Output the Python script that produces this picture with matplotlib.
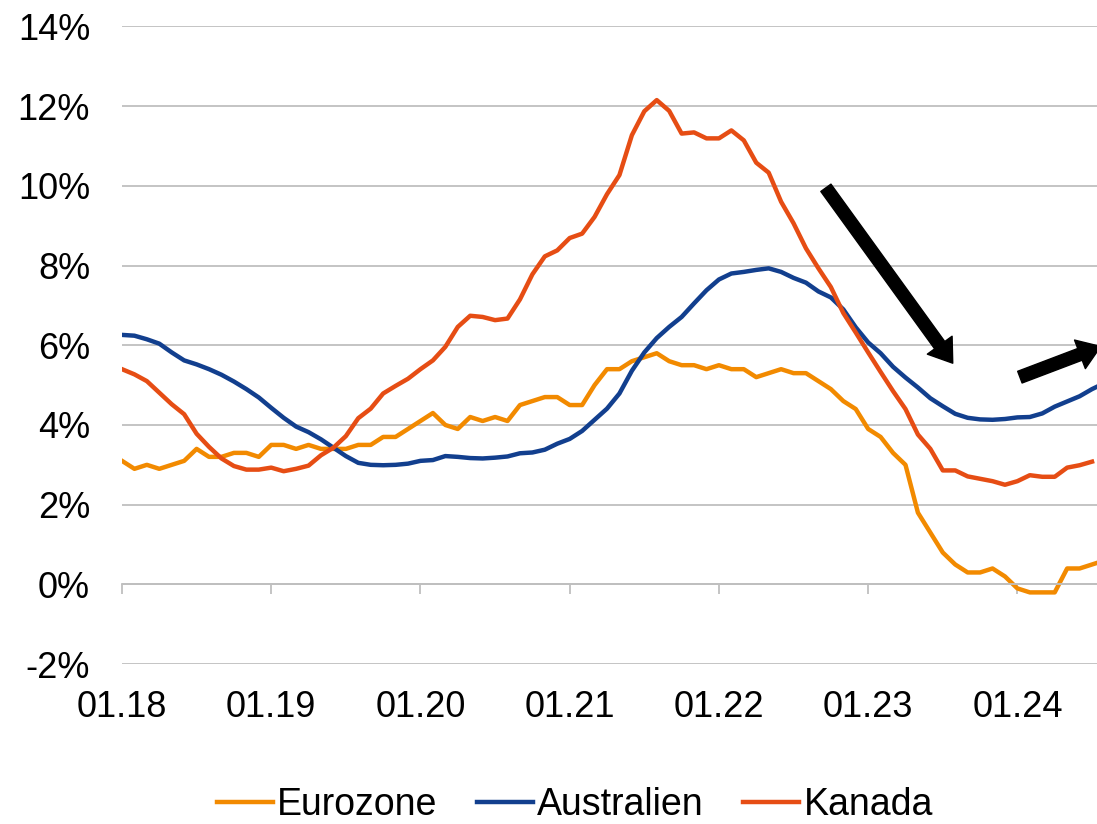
import matplotlib.pyplot as plt
import numpy as np

# monthly values from 01.18 onwards, in percent
eurozone = [3.1, 2.9, 3.0, 2.9, 3.0, 3.1, 3.4, 3.2, 3.2, 3.3,
            3.3, 3.2, 3.5, 3.5, 3.4, 3.5, 3.4, 3.4, 3.4, 3.5,
            3.5, 3.7, 3.7, 3.9, 4.1, 4.3, 4.0, 3.9, 4.2, 4.1,
            4.2, 4.1, 4.5, 4.6, 4.7, 4.7, 4.5, 4.5, 5.0, 5.4,
            5.4, 5.6, 5.7, 5.8, 5.6, 5.5, 5.5, 5.4, 5.5, 5.4,
            5.4, 5.2, 5.3, 5.4, 5.3, 5.3, 5.1, 4.9, 4.6, 4.4,
            3.9, 3.7, 3.3, 3.0, 1.8, 1.3, 0.8, 0.5, 0.3, 0.3,
            0.4, 0.2, -0.1, -0.2, -0.2, -0.2, 0.4, 0.4, 0.5, 0.6]
australien = [6.26, 6.24, 6.15, 6.04, 5.82, 5.62, 5.52, 5.4, 5.26, 5.09,
              4.9, 4.69, 4.43, 4.18, 3.96, 3.82, 3.64, 3.43, 3.22, 3.05,
              3.0, 2.99, 3.0, 3.03, 3.1, 3.12, 3.22, 3.2, 3.17, 3.16,
              3.18, 3.21, 3.29, 3.31, 3.38, 3.53, 3.65, 3.85, 4.13, 4.41,
              4.79, 5.36, 5.82, 6.18, 6.46, 6.71, 7.05, 7.38, 7.65, 7.8,
              7.84, 7.89, 7.93, 7.84, 7.69, 7.57, 7.35, 7.2, 6.9, 6.45,
              6.07, 5.8, 5.46, 5.19, 4.94, 4.67, 4.47, 4.28, 4.18, 4.14,
              4.13, 4.15, 4.19, 4.2, 4.29, 4.46, 4.59, 4.72, 4.9, 5.05]
kanada = [5.4, 5.27, 5.1, 4.81, 4.52, 4.27, 3.78, 3.45, 3.16, 2.97,
          2.88, 2.88, 2.93, 2.84, 2.9, 2.98, 3.24, 3.43, 3.72, 4.17,
          4.41, 4.79, 4.98, 5.16, 5.4, 5.62, 5.96, 6.46, 6.74, 6.71,
          6.63, 6.67, 7.15, 7.78, 8.23, 8.38, 8.69, 8.8, 9.22, 9.79,
          10.27, 11.27, 11.87, 12.15, 11.88, 11.31, 11.34, 11.19, 11.19, 11.39,
          11.14, 10.58, 10.33, 9.6, 9.06, 8.43, 7.93, 7.46, 6.81, 6.32,
          5.82, 5.33, 4.85, 4.4, 3.76, 3.4, 2.86, 2.86, 2.71, 2.65,
          2.59, 2.5, 2.59, 2.74, 2.7, 2.7, 2.93, 2.99, 3.08]

x_labels = ['01.18', '01.19', '01.20', '01.21', '01.22', '01.23', '01.24']
y_ticks = [-2, 0, 2, 4, 6, 8, 10, 12, 14]

plt.rcParams['font.family'] = ['Liberation Sans', 'DejaVu Sans']

fig = plt.figure(figsize=(10.97, 8.24), dpi=100)
ax = fig.add_axes([0.1112, 0.194, 0.8888, 0.774])

ax.plot(np.arange(len(eurozone)), eurozone, color='#F28A00', lw=3.2, label='Eurozone')
ax.plot(np.arange(len(australien)), australien, color='#123F8E', lw=3.2, label='Australien')
ax.plot(np.arange(len(kanada)), kanada, color='#E64D14', lw=3.2, label='Kanada')

ax.set_xlim(0, 78.4)
ax.set_ylim(-2, 14)

ax.set_yticks(y_ticks)
ax.set_yticklabels([f'{v}%' for v in y_ticks])
ax.yaxis.grid(True, color='#BFBFBF', lw=1.3)
ax.set_axisbelow(True)

ax.set_xticks(np.arange(len(x_labels)) * 12)
ax.set_xticklabels(x_labels)

for s in ['left', 'right', 'top']:
    ax.spines[s].set_visible(False)
ax.spines['bottom'].set_position(('data', 0))
ax.spines['bottom'].set_color('#BFBFBF')
ax.spines['bottom'].set_linewidth(1.3)

ax.tick_params(axis='y', length=0, pad=23, labelsize=26)
ax.tick_params(axis='x', direction='out', length=7, width=1.3, color='#BFBFBF',
               pad=69, labelsize=26)

# trend arrows
arrow = dict(facecolor='black', edgecolor='black', width=9, headwidth=22,
             headlength=16, shrink=0)
ax.annotate('', xy=(66.8, 5.55), xytext=(56.6, 9.95), arrowprops=arrow,
            annotation_clip=False)
ax.annotate('', xy=(78.7, 5.97), xytext=(72.2, 5.2), arrowprops=arrow,
            annotation_clip=False)

fig.legend(loc='center', bbox_to_anchor=(0.524, 0.023), ncol=3, frameon=False,
           fontsize=27, handlelength=1.5, handletextpad=0.12, columnspacing=1.04)

plt.savefig('out.png', dpi=100)
